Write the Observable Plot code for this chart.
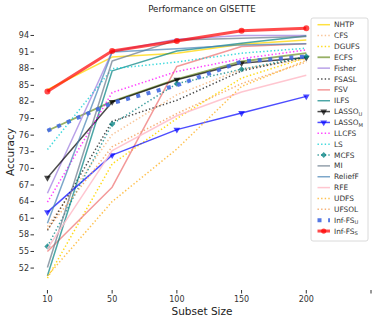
<!DOCTYPE html>
<html><head><meta charset="utf-8">
<script src="https://cdn.jsdelivr.net/npm/d3@7"></script>
<script src="https://cdn.jsdelivr.net/npm/@observablehq/plot@0.6"></script>
<style>body{margin:0;background:#fff} svg{display:block}</style>
</head><body><div id="chart"></div>
<script>
const subsetSizes = ["10", "50", "100", "150", "200"];
const yTicks = [52, 55, 58, 61, 64, 67, 70, 73, 76, 79, 82, 85, 88, 91, 94];

const NHTP    = [84.2, 90.1, 90.8, 92.4, 93.2];
const CFS     = [59.5, 76.1, 83.3, 87.9, 89.8];
const DGUFS   = [50.2, 70.8, 79.0, 86.3, 90.0];
const ECFS    = [76.8, 82.1, 86.1, 89.3, 90.8];
const Fisher  = [65.5, 91.1, 93.3, 94.0, 94.0];
const FSASL   = [58.8, 78.5, 82.3, 87.6, 90.1];
const FSV     = [55.0, 66.6, 88.4, 92.0, 92.5];
const ILFS    = [50.6, 87.6, 91.2, 92.6, 93.9];
const LASSO_U = [68.3, 82.0, 86.0, 89.0, 90.0];
const LASSO_M = [62.1, 72.4, 77.0, 80.0, 83.0];
const LLCFS   = [63.9, 83.7, 87.5, 89.8, 91.4];
const LS      = [73.4, 88.0, 89.2, 90.8, 91.7];
const MCFS    = [55.9, 78.0, 85.3, 87.9, 90.2];
const MI      = [52.1, 89.4, 93.2, 93.5, 93.8];
const ReliefF = [60.1, 91.0, 91.6, 92.3, 92.5];
const RFE     = [55.5, 73.2, 79.5, 83.8, 86.8];
const UDFS    = [50.6, 64.0, 73.5, 84.8, 89.5];
const UFSOL   = [59.0, 73.9, 79.9, 85.3, 89.2];
const InfFS_U = [76.8, 81.8, 85.0, 89.3, 90.2];
const InfFS_S = [83.9, 91.2, 93.0, 94.85, 95.3];

const series = [
  {name: "NHTP", values: NHTP, color: "#ffd700", op: 0.75, dash: null, w: 1.5},
  {name: "CFS", values: CFS, color: "#f4a460", op: 0.65, dash: "1.4,2.2", w: 1.5},
  {name: "DGUFS", values: DGUFS, color: "#ffd700", op: 0.9, dash: "1.4,2.2", w: 1.5},
  {name: "ECFS", values: ECFS, color: "#6b8e23", op: 0.7, dash: null, w: 1.8},
  {name: "Fisher", values: Fisher, color: "#9370db", op: 0.65, dash: null, w: 1.5},
  {name: "FSASL", values: FSASL, color: "#000000", op: 0.7, dash: "1.4,2.2", w: 1.5},
  {name: "FSV", values: FSV, color: "#f08080", op: 0.8, dash: null, w: 1.5},
  {name: "ILFS", values: ILFS, color: "#008080", op: 0.7, dash: null, w: 1.5},
  {name: "LASSO", sub: "U", values: LASSO_U, color: "#000000", op: 0.7, dash: null, w: 1.5, marker: "tri"},
  {name: "LASSO", sub: "M", values: LASSO_M, color: "#0000ff", op: 0.7, dash: null, w: 1.5, marker: "tri"},
  {name: "LLCFS", values: LLCFS, color: "#ff00ff", op: 0.75, dash: "1.4,2.2", w: 1.5},
  {name: "LS", values: LS, color: "#00ced1", op: 0.75, dash: "1.4,2.2", w: 1.5},
  {name: "MCFS", values: MCFS, color: "#008080", op: 0.75, dash: "1.4,2.2", w: 1.5, marker: "dia"},
  {name: "MI", values: MI, color: "#708090", op: 0.75, dash: null, w: 1.5},
  {name: "ReliefF", values: ReliefF, color: "#4682b4", op: 0.7, dash: null, w: 1.5},
  {name: "RFE", values: RFE, color: "#ffc0cb", op: 0.9, dash: null, w: 1.5},
  {name: "UDFS", values: UDFS, color: "#ffa500", op: 0.7, dash: "1.4,2.2", w: 1.5},
  {name: "UFSOL", values: UFSOL, color: "#f4a460", op: 0.85, dash: "1.4,2.2", w: 1.5},
  {name: "Inf-FS", sub: "U", values: InfFS_U, color: "#4169e1", op: 0.9, dash: "4,6.6", w: 4},
  {name: "Inf-FS", sub: "S", values: InfFS_S, color: "#ff0000", op: 0.7, dash: null, w: 3, marker: "circ"}
];

const marks = [];
for (const s of series) {
  const rows = s.values.map((v, i) => ({i, v}));
  marks.push(Plot.line(rows, {x: "i", y: "v", stroke: s.color, strokeOpacity: s.op, strokeWidth: s.w,
    strokeDasharray: s.dash || undefined, strokeLinecap: "butt"}));
  if (s.marker === "tri") marks.push(Plot.dot(rows, {x: "i", y: "v", symbol: "triangle", rotate: 180, r: 2.5, fill: s.color, fillOpacity: s.op, stroke: "none"}));
  if (s.marker === "dia") marks.push(Plot.dot(rows, {x: "i", y: "v", symbol: "diamond2", r: 2.8, fill: s.color, fillOpacity: s.op, stroke: "none"}));
  if (s.marker === "circ") marks.push(Plot.dot(rows, {x: "i", y: "v", symbol: "circle", r: 3, fill: s.color, fillOpacity: s.op, stroke: "none"}));
}

const chart = Plot.plot({
  width: 374, height: 320,
  marginLeft: 34, marginRight: 3.5, marginTop: 15.3, marginBottom: 30,
  style: {fontFamily: "DejaVu Sans", fontSize: "8px", color: "#333", background: "#fff"},
  x: {type: "linear", domain: [-0.2, 5]},
  y: {domain: [47.95, 97.55]},
  marks: [
    Plot.axisX({ticks: [0, 1, 2, 3, 4, 5], tickFormat: i => subsetSizes[i] ?? "", tickSize: 3.5, tickPadding: 2.5, label: null}),
    Plot.axisY({ticks: yTicks, tickFormat: d => String(d), tickSize: 3.5, tickPadding: 2, label: null}),
    ...marks
  ]
});
document.getElementById("chart").appendChild(chart);

const svg = d3.select(chart);
svg.append("text").attr("x", 202).attr("y", 12).attr("text-anchor", "middle")
  .style("font-family", "DejaVu Sans").style("font-size", "8.7px").attr("fill", "#222").text("Performance on GISETTE");
svg.append("text").attr("x", 202).attr("y", 314.5).attr("text-anchor", "middle")
  .style("font-family", "DejaVu Sans").style("font-size", "10.5px").attr("fill", "#222").text("Subset Size");
svg.append("text").attr("transform", "translate(14,152) rotate(-90)").attr("text-anchor", "middle")
  .style("font-family", "DejaVu Sans").style("font-size", "10.5px").attr("fill", "#222").text("Accuracy");

// legend
const lg = svg.append("g").attr("text-anchor", "start");
lg.append("rect").attr("x", 311).attr("y", 18).attr("width", 57).attr("height", 223).attr("rx", 2)
  .attr("fill", "#fff").attr("fill-opacity", 0.85).attr("stroke", "#d0d0d0").attr("stroke-width", 0.8);
series.forEach((s, k) => {
  const y = 24.7 + k * 10.86;
  lg.append("line").attr("x1", 317.5).attr("x2", 330).attr("y1", y).attr("y2", y)
    .attr("stroke", s.color).attr("stroke-opacity", s.op).attr("stroke-width", s.w)
    .attr("stroke-dasharray", s.dash || null);
  if (s.marker === "tri") lg.append("path").attr("d", d3.symbol(d3.symbolTriangle, 20)()).attr("transform", `translate(323.7,${y}) rotate(180)`).attr("fill", s.color).attr("fill-opacity", s.op);
  if (s.marker === "dia") lg.append("path").attr("d", d3.symbol(d3.symbolDiamond2, 22)()).attr("transform", `translate(323.7,${y})`).attr("fill", s.color).attr("fill-opacity", s.op);
  if (s.marker === "circ") lg.append("circle").attr("cx", 323.7).attr("cy", y).attr("r", 2.6).attr("fill", s.color).attr("fill-opacity", s.op);
  const t = lg.append("text").attr("x", 334).attr("y", y + 2.6).attr("text-anchor", "start")
    .style("font-family", "DejaVu Sans").style("font-size", "7.4px").attr("fill", "#333").text(s.name);
  if (s.sub) t.append("tspan").attr("font-size", "5.2px").attr("dy", 1.5).text(s.sub);
});
</script></body></html>
